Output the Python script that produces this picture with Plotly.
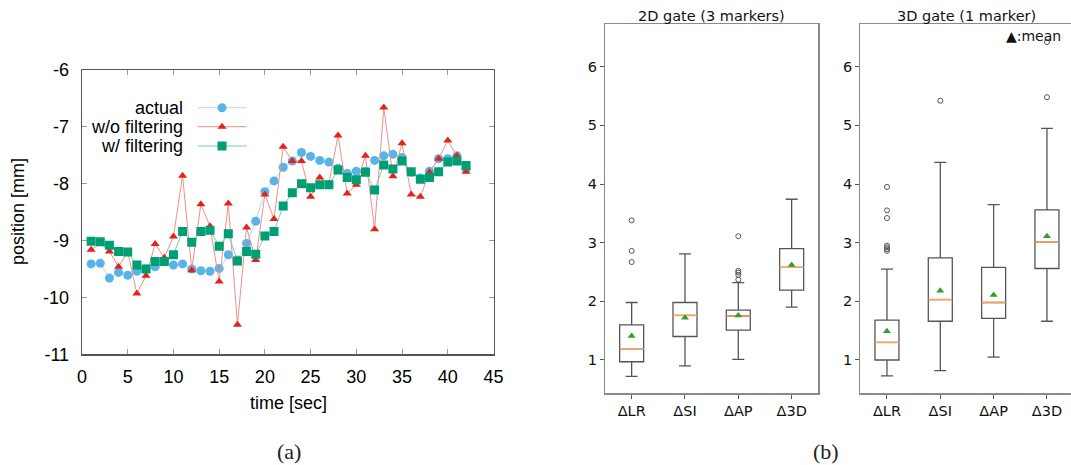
import plotly.graph_objects as go

# ---------------- data: left chart (a) ----------------
time_sec = list(range(1, 43))
actual = [-9.41, -9.40, -9.66, -9.56, -9.61, -9.54, -9.50, -9.46, -9.37, -9.43,
          -9.41, -9.50, -9.53, -9.54, -9.49, -9.25, -9.34, -9.05, -8.66, -8.14,
          -7.95, -7.71, -7.60, -7.45, -7.52, -7.59, -7.62, -7.73, -7.82, -7.78,
          -7.78, -7.59, -7.51, -7.48, -7.54, -7.80, -7.90, -7.78, -7.56, -7.56,
          -7.51, -7.74]
wo_filtering = [-9.16, -9.05, -9.19, -9.46, -9.20, -9.93, -9.62, -9.06, -9.30, -8.93,
                -7.86, -9.52, -8.36, -8.75, -9.72, -8.35, -10.48, -8.77, -9.34, -8.19,
                -8.62, -7.35, -7.60, -7.60, -8.23, -7.89, -8.00, -7.15, -8.17, -8.02,
                -7.51, -8.80, -6.66, -7.87, -7.29, -8.19, -8.23, -7.80, -7.56, -7.24,
                -7.51, -7.79]
w_filtering = [-9.01, -9.02, -9.08, -9.19, -9.20, -9.43, -9.50, -9.37, -9.37, -9.25,
               -8.84, -9.03, -8.84, -8.82, -9.10, -8.88, -9.36, -9.19, -9.24, -8.92,
               -8.84, -8.39, -8.16, -8.00, -8.07, -8.02, -8.02, -7.76, -7.89, -7.93,
               -7.80, -8.11, -7.67, -7.74, -7.60, -7.79, -7.92, -7.89, -7.79, -7.62,
               -7.60, -7.68]
series_names = ["actual", "w/o filtering", "w/ filtering"]
x_ticks_a = [0, 5, 10, 15, 20, 25, 30, 35, 40, 45]
y_ticks_a = [-6, -7, -8, -9, -10, -11]

# ---------------- data: right chart (b) ----------------
box_labels = ["ΔLR", "ΔSI", "ΔAP", "Δ3D"]
box_pos = [1, 2, 3, 4]
# 2D gate (3 markers)
g2_low = [0.72, 0.90, 1.01, 1.90]
g2_q1 = [0.97, 1.40, 1.51, 2.19]
g2_med = [1.19, 1.76, 1.75, 2.58]
g2_q3 = [1.60, 1.98, 1.85, 2.90]
g2_high = [1.98, 2.81, 2.32, 3.74]
g2_mean = [1.41, 1.72, 1.76, 2.62]
g2_out_x = [1, 1, 1, 3, 3, 3, 3, 3]
g2_out_y = [2.67, 2.86, 3.38, 2.37, 2.45, 2.49, 2.52, 3.11]
# 3D gate (1 marker)
g3_low = [0.73, 0.82, 1.05, 1.66]
g3_q1 = [1.00, 1.66, 1.71, 2.56]
g3_med = [1.30, 2.03, 1.98, 3.01]
g3_q3 = [1.68, 2.74, 2.58, 3.56]
g3_high = [2.55, 4.37, 3.65, 4.95]
g3_mean = [1.49, 2.18, 2.11, 3.11]
g3_out_x = [1, 1, 1, 1, 1, 1, 1, 2, 4, 4]
g3_out_y = [2.86, 2.89, 2.92, 2.95, 3.42, 3.55, 3.95, 5.42, 5.48, 6.42]
y_ticks_b = [1, 2, 3, 4, 5, 6]

# ---------------- styles ----------------
W, H = 1071, 465
marker_cols = ["#56b4e9", "#e5221a", "#009e73"]
line_cols = ["#a9dbf5", "#ee8f88", "#77cdb5"]
symbols = ["circle", "triangle-up", "square"]
msizes = [9, 8, 9]
FONT_A = "Liberation Sans, Arial, sans-serif"
FONT_B = "DejaVu Sans, sans-serif"

def px_x(p):
    return p / W

def px_y(p):
    return 1 - p / H

fig = go.Figure()

# left chart traces
for name, ys, lc, mc, sym, ms in zip(series_names, [actual, wo_filtering, w_filtering],
                                     line_cols, marker_cols, symbols, msizes):
    fig.add_trace(go.Scatter(x=time_sec, y=ys, mode="lines+markers", name=name,
                             line=dict(color=lc, width=1),
                             marker=dict(color=mc, symbol=sym, size=ms, line=dict(width=0)),
                             xaxis="x", yaxis="y", showlegend=False, hoverinfo="skip"))

# custom legend (text left, sample right) on a pixel overlay axis
leg_rows = [107.7, 126.7, 146.0]
for name, lc, mc, sym, ms, ry in zip(series_names, line_cols, marker_cols, symbols, msizes, leg_rows):
    fig.add_trace(go.Scatter(x=[197.7, 246.7], y=[ry, ry], mode="lines",
                             line=dict(color=lc, width=1), xaxis="x4", yaxis="y4",
                             showlegend=False, hoverinfo="skip"))
    fig.add_trace(go.Scatter(x=[222.0], y=[ry], mode="markers",
                             marker=dict(color=mc, symbol=sym, size=ms, line=dict(width=0)),
                             xaxis="x4", yaxis="y4", showlegend=False, hoverinfo="skip"))
    fig.add_annotation(x=px_x(185), y=px_y(ry), xref="paper", yref="paper", text=name,
                       showarrow=False, xanchor="right", yanchor="middle",
                       font=dict(family=FONT_A, size=18, color="#000"))

# right chart traces
BOX_LINE = "#555555"
for (xa, ya, low, q1, med, q3, high, mean, ox, oy) in [
        ("x2", "y2", g2_low, g2_q1, g2_med, g2_q3, g2_high, g2_mean, g2_out_x, g2_out_y),
        ("x3", "y3", g3_low, g3_q1, g3_med, g3_q3, g3_high, g3_mean, g3_out_x, g3_out_y)]:
    fig.add_trace(go.Box(x=box_pos, q1=q1, median=med, q3=q3, lowerfence=low, upperfence=high,
                         width=0.45, whiskerwidth=0.5, fillcolor="rgba(255,255,255,0)",
                         line=dict(color=BOX_LINE, width=1.3), boxpoints=False,
                         xaxis=xa, yaxis=ya, showlegend=False, hoverinfo="skip"))
    # orange median lines
    mx, my = [], []
    for p, m in zip(box_pos, med):
        mx += [p - 0.225, p + 0.225, None]
        my += [m, m, None]
    fig.add_trace(go.Scatter(x=mx, y=my, mode="lines", line=dict(color="#ffa35c", width=1.5),
                             xaxis=xa, yaxis=ya, showlegend=False, hoverinfo="skip"))
    fig.add_trace(go.Scatter(x=box_pos, y=mean, mode="markers",
                             marker=dict(symbol="triangle-up", color="#2ca02c", size=7, line=dict(width=0)),
                             xaxis=xa, yaxis=ya, showlegend=False, hoverinfo="skip"))
    fig.add_trace(go.Scatter(x=ox, y=oy, mode="markers",
                             marker=dict(symbol="circle-open", color="#555", size=5, line=dict(width=1)),
                             xaxis=xa, yaxis=ya, showlegend=False, hoverinfo="skip"))

# ---------------- axes ----------------
ax_a = dict(showgrid=False, zeroline=False, showline=True, linecolor="#555", linewidth=1.3,
            mirror="ticks", ticks="inside", ticklen=5, tickcolor="#999", tickwidth=1,
            automargin=False, tickfont=dict(family=FONT_A, size=18, color="#000"))
fig.update_layout(
    xaxis=dict(domain=[px_x(82), px_x(493.5)], range=[0, 45], tickvals=x_ticks_a,
               ticktext=[str(v) for v in x_ticks_a], anchor="y", ticklabelstandoff=6, **ax_a),
    yaxis=dict(domain=[px_y(354.3), px_y(70)], range=[-11, -6], tickvals=y_ticks_a,
               ticktext=[str(v) for v in y_ticks_a], anchor="x", ticklabelstandoff=8, **ax_a),
)

ax_b = dict(showgrid=False, zeroline=False, showline=True, linecolor="#8a8a8a", linewidth=1.2,
            ticks="outside", ticklen=4, tickcolor="#555", tickwidth=1, automargin=False,
            tickfont=dict(family=FONT_B, size=14.5, color="#111"))
yr = [0.432, 6.723]
fig.update_layout(
    xaxis2=dict(domain=[px_x(605), px_x(818.3)], range=[0.5, 4.5], tickvals=box_pos,
                ticktext=box_labels, anchor="y2", mirror=True, **ax_b),
    yaxis2=dict(domain=[px_y(393.3), px_y(24.3)], range=yr, tickvals=y_ticks_b,
                ticktext=[str(v) for v in y_ticks_b], anchor="x2", mirror=True, **ax_b),
    xaxis3=dict(domain=[px_x(860.3), 1.0], range=[0.5, 0.5 + (W - 860.3) / 53.33],
                tickvals=box_pos, ticktext=box_labels, anchor="y3", mirror=True, **ax_b),
    yaxis3=dict(domain=[px_y(393.3), px_y(24.3)], range=yr, tickvals=y_ticks_b,
                ticktext=[str(v) for v in y_ticks_b], anchor="x3", mirror=False, **ax_b),
    xaxis4=dict(domain=[0, 1], range=[0, W], visible=False, anchor="y4", fixedrange=True,
                automargin=False),
    yaxis4=dict(domain=[0, 1], range=[H, 0], visible=False, anchor="x4", fixedrange=True,
                automargin=False),
)

# ---------------- texts ----------------
def ann(x, y, text, size, family, angle=0, xanchor="center", color="#000"):
    fig.add_annotation(x=px_x(x), y=px_y(y), xref="paper", yref="paper", text=text,
                       showarrow=False, xanchor=xanchor, yanchor="middle", textangle=angle,
                       font=dict(family=family, size=size, color=color))

ann(18, 212, "position [mm]", 18, FONT_A, angle=-90)
ann(288, 403, "time [sec]", 18, FONT_A)
ann(711.6, 15.7, "2D gate (3 markers)", 14.5, FONT_B, color="#111")
ann(966.7, 15.7, "3D gate (1 marker)", 14.5, FONT_B, color="#111")
ann(1063, 36, "▲:mean", 14, FONT_B, xanchor="right", color="#111")
ann(289, 451, "(a)", 22, "Liberation Serif, DejaVu Serif, serif", color="#222")
ann(826, 451, "(b)", 22, "Liberation Serif, DejaVu Serif, serif", color="#222")

fig.update_layout(width=W, height=H, margin=dict(l=0, r=0, t=0, b=0, autoexpand=False),
                  paper_bgcolor="white", plot_bgcolor="rgba(0,0,0,0)", showlegend=False,
                  hovermode=False)

fig.write_html("out.html", config={"displayModeBar": False, "staticPlot": True},
               post_script="document.body.style.margin='0px';document.body.style.padding='0px';"
                           "document.body.style.overflow='hidden';")
